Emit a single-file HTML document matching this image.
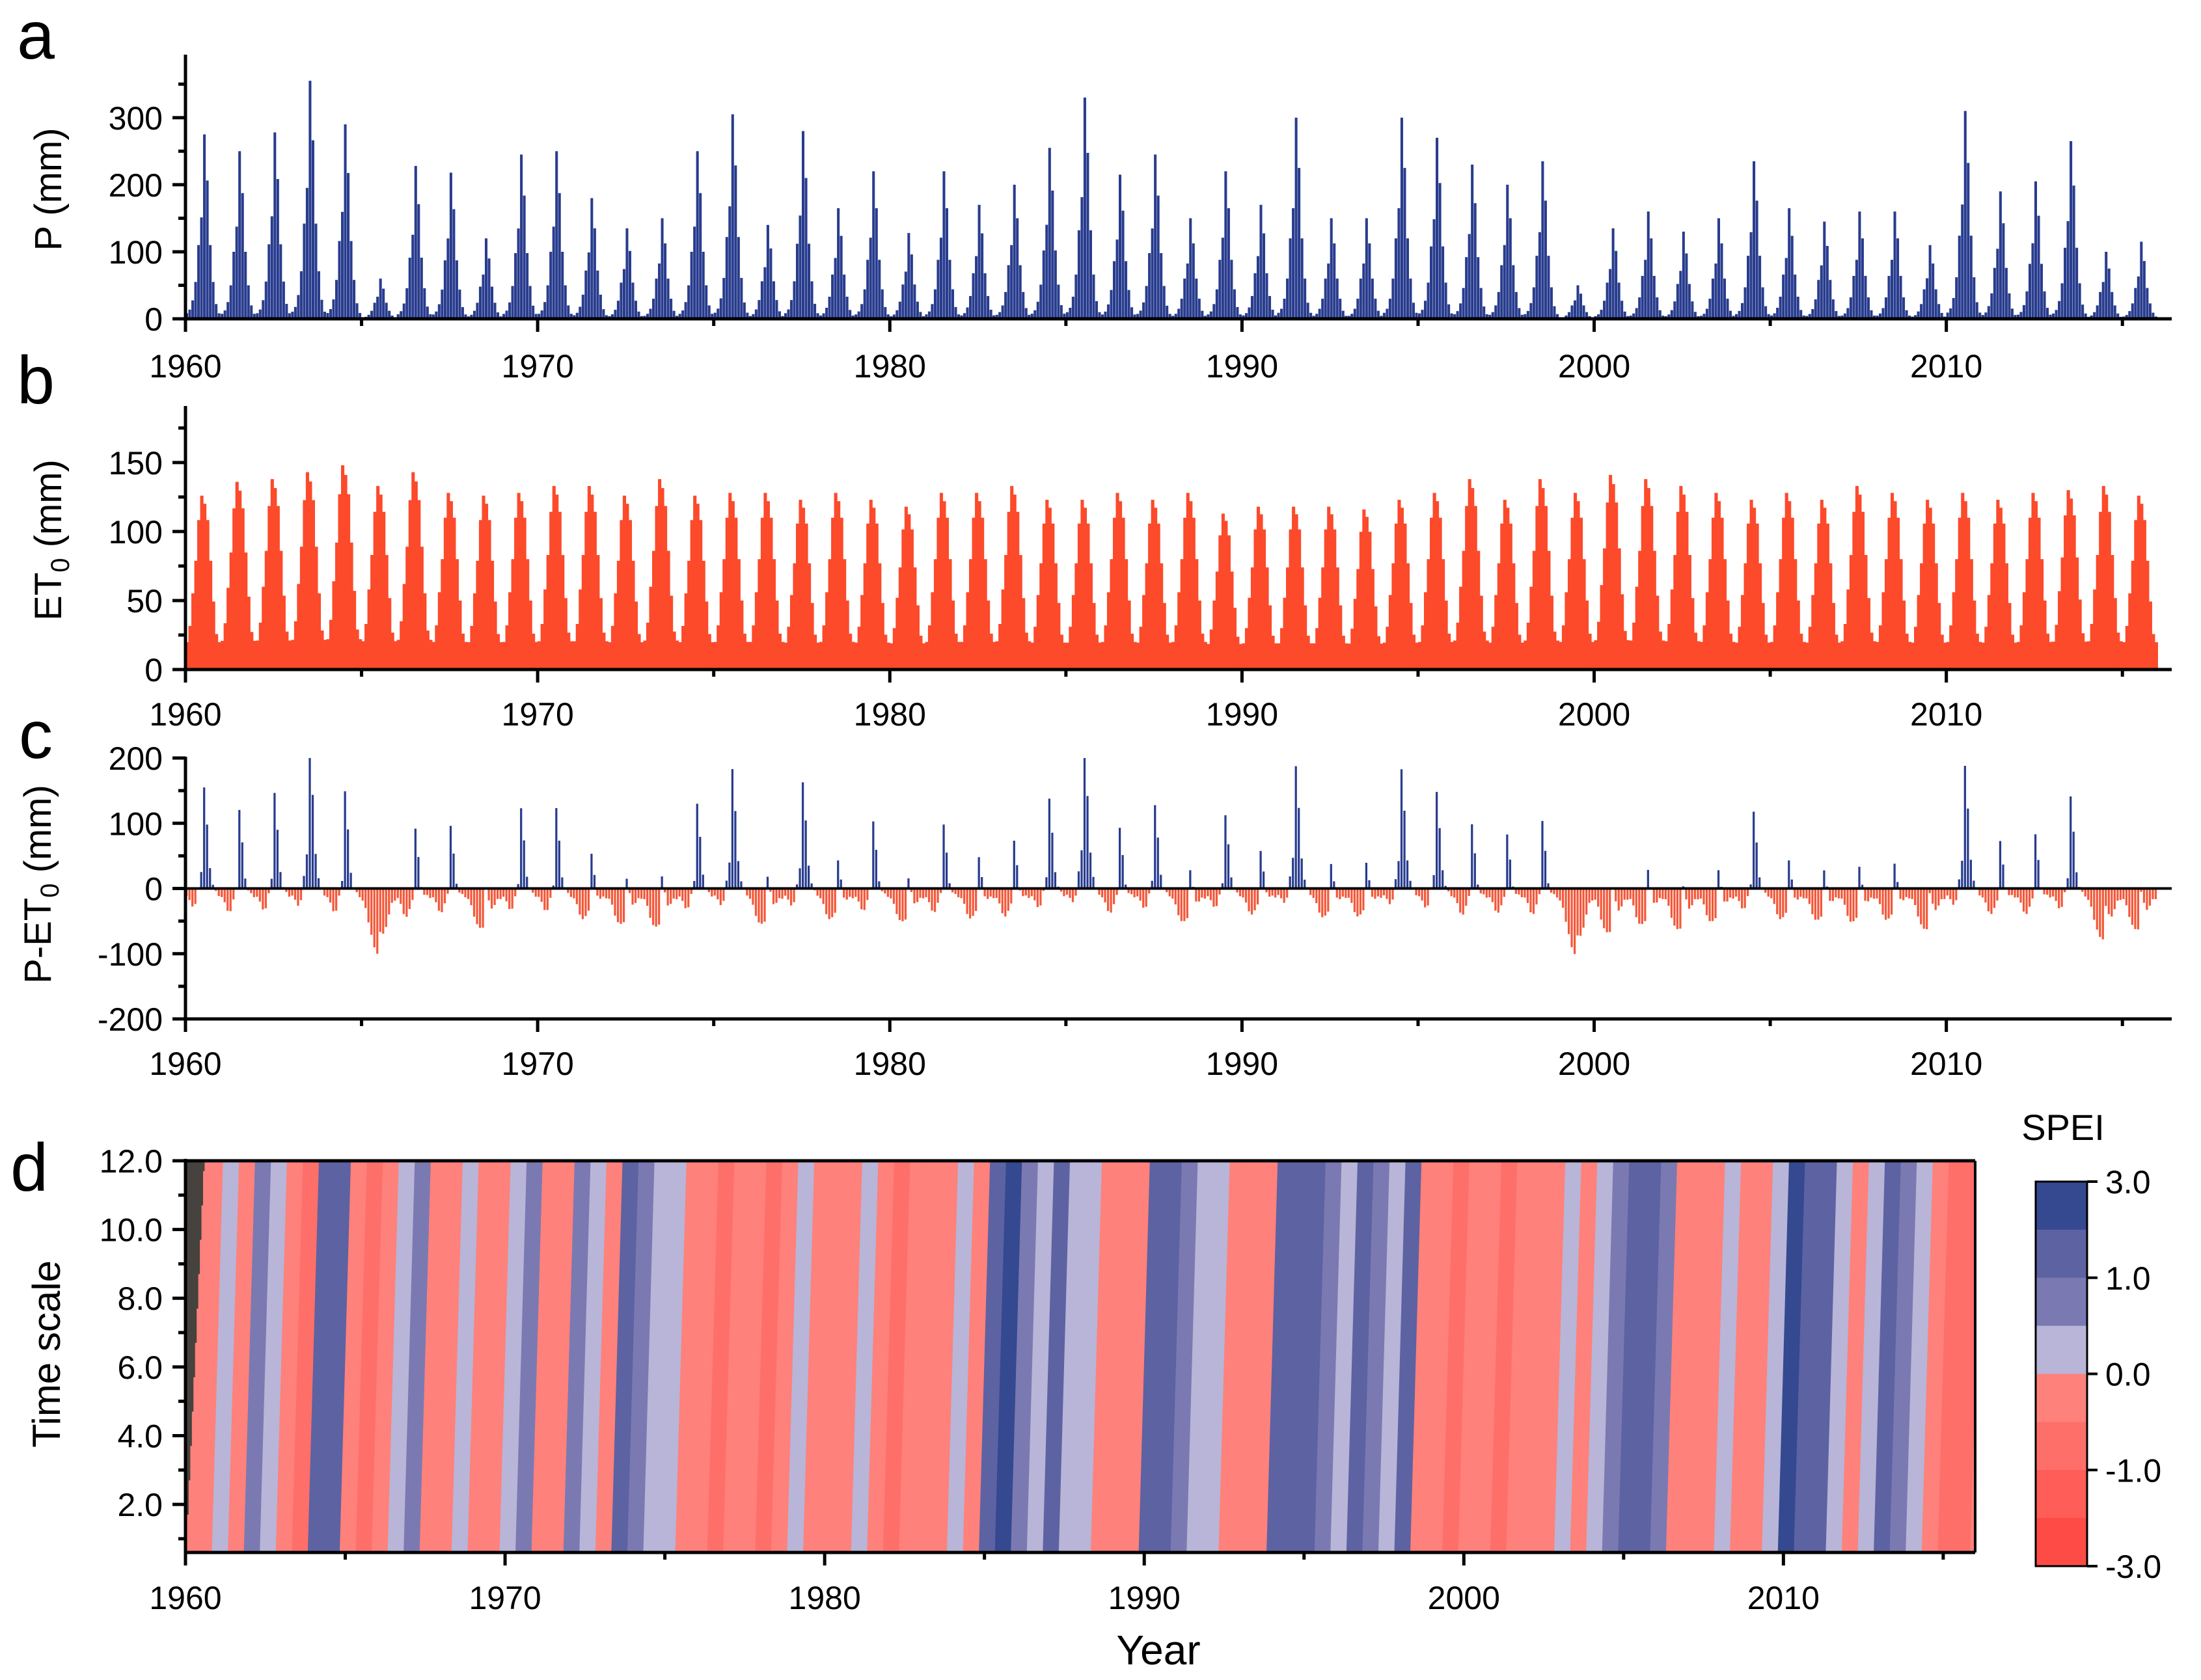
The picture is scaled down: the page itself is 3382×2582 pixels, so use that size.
<!DOCTYPE html>
<html><head><meta charset="utf-8"><style>
html,body{margin:0;padding:0;background:#fff}
svg{display:block;font-family:"Liberation Sans",Arial,sans-serif}
</style></head><body>
<svg id="fig" width="3382" height="2582" viewBox="0 0 3382 2582" xmlns="http://www.w3.org/2000/svg">
<rect width="3382" height="2582" fill="#fff"/>
</svg>
<script>
// ---- data ----
const years = Array.from({length:56},(_,i)=>1960+i);
const pPeak = [275,250,278,355,290,60,228,218,120,245,250,180,135,150,250,305,140,280,165,220,128,220,170,200,255,330,215,245,150,220,170,300,150,150,300,270,230,200,235,50,135,160,130,150,235,165,145,160,160,110,310,190,205,265,100,115];
const pShape = [0.03,0.05,0.1,0.2,0.4,0.55,1.0,0.75,0.4,0.2,0.08,0.03];
const etPeak = [118,128,130,135,140,125,135,120,118,120,125,125,118,130,118,120,120,115,120,115,110,120,120,125,115,115,120,115,120,105,110,110,110,108,115,120,130,115,130,120,133,130,125,120,115,120,115,125,120,115,120,115,120,122,125,118];
const etShape = [0.1,0.2,0.4,0.6,0.85,1.0,0.95,0.85,0.6,0.35,0.15,0.1];
const speiHalf = [-0.3,-0.3, 0.3,-0.3, 0.7,0.3, -0.3,-0.6, 1.5,1.5, -0.3,-0.6, -0.3,0.3, 0.7,-0.3, -0.3,0.3, -0.3,-0.3,
 0.3,0.7, -0.3,-0.3, 0.7,0.3, -0.3,1.2, 0.8,0.3, 0.3,-0.3, -0.3,-0.6, -0.3,-0.3, -0.6,-0.3, 0.3,-0.3,
 -0.3,-0.3, 0.3,-0.3, -0.6,-0.3, -0.3,-0.3, 0.3,-0.3, 1.5,2.2, 0.7,0.3, 1.3,0.3, 0.3,-0.3, -0.3,-0.3,
 1.5,1.2, 0.7,0.3, 0.3,-0.3, -0.3,-0.3, 1.2,1.5, 1.3,0.7, 0.3,1.2, 0.7,0.3, 1.3,-0.3, -0.3,-0.6,
 -0.3,-0.3, -0.6,-0.3, -0.3,-0.3, 0.3,-0.3, 0.3,0.7, 1.5,1.2, 0.7,-0.3, -0.3,-0.3, 0.3,-0.3, -0.3,0.3,
 2.2,1.5, 1.2,0.3, -0.3,0.3, 1.3,0.7, 0.3,-0.3, -0.6,-0.6];
const xTicks = [1960,1970,1980,1990,2000,2010];
const cbLabels = ["3.0","1.0","0.0","-1.0","-3.0"];

// ---- helpers ----
const svg=document.getElementById('fig');
const NS='http://www.w3.org/2000/svg';
function el(tag,attrs,parent){const e=document.createElementNS(NS,tag);for(const k in attrs)e.setAttribute(k,attrs[k]);(parent||svg).appendChild(e);return e;}
function txt(s,x,y,size,anchor,parent,rot){const t=el('text',{x:x,y:y,'font-size':size,'text-anchor':anchor||'middle',fill:'#000'},parent);if(rot)t.setAttribute('transform','rotate(-90 '+x+' '+y+')');t.textContent=s;return t;}

const X0=285,X1=3337,T0=1960,T1=2016.4;
const xs=t=>X0+(t-T0)/(T1-T0)*(X1-X0);
const mw=(X1-X0)/((T1-T0)*12);
const bw=mw*0.9;
const FS=50;

function panel(name,top,bottom,vmin,vmax,major,minor,xLabelY){
  const g=el('g',{});
  
  
  const ys=v=>bottom-(v-vmin)/(vmax-vmin)*(bottom-top);
  return {g,ys,axes:()=>{
    el('line',{x1:X0,y1:top-2,x2:X0,y2:bottom+4,stroke:'#000','stroke-width':5},g);
    el('line',{x1:X0-2,y1:bottom,x2:X1,y2:bottom,stroke:'#000','stroke-width':5},g);
    for(let v=vmin;v<=vmax+1e-6;v+=minor){
      const isMaj=v%major===0;
      el('line',{x1:X0,y1:ys(v),x2:X0-(isMaj?20:11),y2:ys(v),stroke:'#000','stroke-width':5},g);
    }
    for(let v=Math.ceil(vmin/major)*major;v<=vmax+1e-6;v+=major){
      txt(String(v),250,ys(v)+18,FS,'end',g);
    }
    for(let t=1960;t<=2015;t+=5){
      el('line',{x1:xs(t),y1:bottom,x2:xs(t),y2:bottom+(t%10===0?20:11),stroke:'#000','stroke-width':5},g);
    }
    xTicks.forEach(t=>txt(String(t),xs(t),xLabelY,FS,'middle',g));
  }};
}

// Panel a
const a=panel('panel-a-precipitation',86,490,0,392,100,50,580);
years.forEach((y,i)=>pShape.forEach((s,m)=>{
  const v=pPeak[i]*s; const r=el('rect',{x:xs(y+m/12),y:a.ys(v),width:bw,height:a.ys(0)-a.ys(v),fill:'#283c8e'},a.g);
  
  
}));
a.axes();
// Panel b
const b=panel('panel-b-et0',626,1029,0,190,50,25,1115);
years.forEach((y,i)=>etShape.forEach((s,m)=>{
  const v=etPeak[i]*s+8; const r=el('rect',{x:xs(y+m/12),y:b.ys(v),width:mw+0.6,height:b.ys(0)-b.ys(v),fill:'#fc4a2b'},b.g);
  
  
}));
b.axes();
// Panel c
const c=panel('panel-c-water-balance',1165,1566,-200,200,100,50,1652);
years.forEach((y,i)=>pShape.forEach((s,m)=>{
  let v=pPeak[i]*s-(etPeak[i]*etShape[m]+8); v=Math.max(-200,Math.min(200,v));
  const y0=c.ys(0),y1=c.ys(v);
  const r=el('rect',{x:xs(y+m/12),y:Math.min(y0,y1),width:bw*0.8,height:Math.abs(y1-y0),fill:v>0?'#283c8e':'#f4583a'},c.g);
  
  
}));
el('line',{x1:X0,y1:c.ys(0),x2:X1,y2:c.ys(0),stroke:'#000','stroke-width':4},c.g);
c.axes();

// Panel d heatmap
const DX0=285,DX1=3035,DT1=2016;
const dx=t=>DX0+(t-T0)/(DT1-T0)*(DX1-DX0);
const DTOP=1784,DBOT=2386,VMIN=0.6,VMAX=12;
const dy=v=>DBOT-(v-VMIN)/(VMAX-VMIN)*(DBOT-DTOP);
const colors=['#fe4b45','#ff5d57','#ff6f6a','#ff817b','#b8b5d8','#7b79b2','#5d62a2','#34498f'];
const cls=v=>v<-2?0:v<-1?1:v<-0.5?2:v<0?3:v<0.5?4:v<1?5:v<2?6:7;
const dg=el('g',{});


const clip=el('clipPath',{id:'dclip'},dg);
el('rect',{x:DX0,y:DTOP,width:DX1-DX0,height:DBOT-DTOP},clip);
const hg=el('g',{'clip-path':'url(#dclip)'},dg);
el('rect',{x:DX0,y:DTOP,width:DX1-DX0,height:DBOT-DTOP,fill:'#ff817b'},hg);
const slant=0.35;
speiHalf.forEach((v,i)=>{
  const t0=1960+i*0.5-slant*0.5,t1=t0+0.5+0.02;
  const p=el('polygon',{points:`${dx(t0)},${DBOT} ${dx(t1)},${DBOT} ${dx(t1+slant)},${DTOP} ${dx(t0+slant)},${DTOP}`,fill:colors[cls(v)]},hg);
  
  
});
let pts=`${DX0},${DTOP} ${DX0},${DBOT}`;
for(let s=1;s<=12;s++){pts+=` ${dx(1960+(s-1)*0.05)},${dy(s-0.3)} ${dx(1960+s*0.05)},${dy(s-0.3)}`;}
pts+=` ${dx(1960.6)},${DTOP}`;
el('polygon',{points:pts,fill:'#46423e'},hg);
el('line',{x1:DX0,y1:DTOP-3,x2:DX0,y2:DBOT+3,stroke:'#000','stroke-width':5},dg);
el('line',{x1:DX0,y1:DBOT,x2:DX1,y2:DBOT,stroke:'#000','stroke-width':5},dg);
el('line',{x1:DX0,y1:DTOP,x2:DX1,y2:DTOP,stroke:'#000','stroke-width':5},dg);
el('line',{x1:DX1,y1:DTOP,x2:DX1,y2:DBOT,stroke:'#000','stroke-width':4},dg);
for(let v=1;v<=12;v++){el('line',{x1:DX0,y1:dy(v),x2:DX0-(v%2===0?20:11),y2:dy(v),stroke:'#000','stroke-width':5},dg);}
for(let v=2;v<=12;v+=2){txt(v.toFixed(1),250,dy(v)+18,FS,'end',dg);}
for(let t=1960;t<=2015;t+=5){el('line',{x1:dx(t),y1:DBOT,x2:dx(t),y2:DBOT+(t%10===0?20:11),stroke:'#000','stroke-width':5},dg);}
xTicks.forEach(t=>txt(String(t),dx(t),2473,FS,'middle',dg));

// colorbar
const cb=el('g',{});


const CBT=1816,CBB=2407,CBX=3128,CBW=79;
colors.slice().reverse().forEach((col,i)=>{el('rect',{x:CBX,y:CBT+i*(CBB-CBT)/8,width:CBW,height:(CBB-CBT)/8+0.5,fill:col},cb);});
el('rect',{x:CBX,y:CBT,width:CBW,height:CBB-CBT,fill:'none',stroke:'#000','stroke-width':3},cb);
cbLabels.forEach((s,i)=>{const yy=CBT+i*(CBB-CBT)/4;el('line',{x1:CBX+CBW,y1:yy,x2:CBX+CBW+16,y2:yy,stroke:'#000','stroke-width':4},cb);txt(s,CBX+CBW+28,yy+18,FS,'start',cb);});
txt('SPEI',3170,1752,56,'middle',cb);

// labels
[['a',55,90],['b',55,620],['c',55,1165],['d',45,1830]].forEach(([s,x,y])=>{const t=txt(s,x,y,104,'middle');});
const ta=txt('P (mm)',94,291,58,'middle',null,true);
const tb=el('text',{x:94,y:830,'font-size':58,'text-anchor':'middle',transform:'rotate(-90 94 830)'});tb.innerHTML='ET<tspan font-size="40" dy="12">0</tspan><tspan dy="-12"> (mm)</tspan>';

const tc=el('text',{x:78,y:1359,'font-size':58,'text-anchor':'middle',transform:'rotate(-90 78 1359)'});tc.innerHTML='P-ET<tspan font-size="40" dy="12">0</tspan><tspan dy="-12"> (mm)</tspan>';

const td=txt('Time scale',92,2081,60,'middle',null,true);
const tx=txt('Year',1780,2558,64,'middle');
</script>
</body></html>
